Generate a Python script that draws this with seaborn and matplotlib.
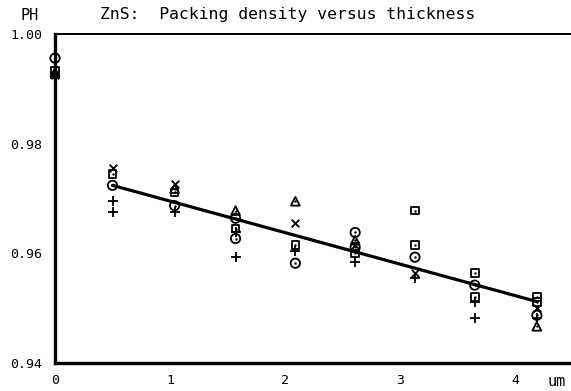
import numpy as np
import matplotlib
matplotlib.use('Agg')
import matplotlib.pyplot as plt
import pandas as pd
import seaborn as sns

# =========================
# DATA
# =========================
# thickness (um) and packing density, one list pair per marker symbol
circle_x = [0, 0.50, 1.04, 1.57, 1.57, 2.09, 2.61, 2.61, 3.13, 3.65, 4.19]
circle_y = [0.9956, 0.9724, 0.9687, 0.9664, 0.9627, 0.9582, 0.9638, 0.9611, 0.9593, 0.9542, 0.9487]

plus_x = [0, 0.50, 0.50, 1.04, 1.57, 1.57, 2.09, 2.61, 3.13, 3.65, 3.65, 4.19]
plus_y = [0.9920, 0.9695, 0.9676, 0.9676, 0.9638, 0.9593, 0.9605, 0.9584, 0.9555, 0.9511, 0.9482, 0.9482]

cross_x = [0, 0.50, 1.04, 2.09, 2.61, 3.13, 4.19]
cross_y = [0.9925, 0.9755, 0.9727, 0.9655, 0.9615, 0.9565, 0.9500]

square_x = [0, 0.50, 1.04, 1.57, 2.09, 2.61, 3.13, 3.13, 3.65, 3.65, 4.19, 4.19]
square_y = [0.9933, 0.9745, 0.9711, 0.9645, 0.9615, 0.9600, 0.9678, 0.9615, 0.9564, 0.9520, 0.9520, 0.9511]

tri_x = [0, 1.04, 1.57, 2.09, 2.61, 4.19]
tri_y = [0.9930, 0.9718, 0.9678, 0.9695, 0.9624, 0.9467]

# fitted line end points
fit_x = [0.50, 4.19]
fit_y = [0.9724, 0.9512]

title = 'ZnS:  Packing density versus thickness'
y_label = 'PH'
x_unit = 'um'

# =========================
# PLOTTING SETUP
# =========================
sns.set_style('white')
plt.rcParams['font.family'] = ['DejaVu Sans Mono']
plt.rcParams['text.color'] = 'black'
plt.rcParams['xtick.color'] = 'black'
plt.rcParams['ytick.color'] = 'black'

fig = plt.figure(figsize=(5.71, 3.91), dpi=100)
ax = fig.add_axes([55 / 571, 1 - 363 / 391, 1 - 55 / 571, (363 - 34) / 391])

# fit line
sns.lineplot(x=fit_x, y=fit_y, ax=ax, color='black', linewidth=2.3)

# open markers
open_kw = dict(ax=ax, facecolor='none', edgecolor='black', linewidth=1.3,
               legend=False, clip_on=False, zorder=3)
sns.scatterplot(x=circle_x, y=circle_y, marker='o', s=45, **open_kw)
sns.scatterplot(x=square_x, y=square_y, marker='s', s=30, **open_kw)
sns.scatterplot(x=tri_x, y=tri_y, marker='^', s=40, **open_kw)

# centre dots of the open symbols
dots = pd.DataFrame({
    'x': circle_x + square_x + tri_x,
    'y': circle_y + square_y + tri_y,
})
sns.scatterplot(data=dots, x='x', y='y', ax=ax, marker='o', s=3,
                color='black', linewidth=0, legend=False, clip_on=False, zorder=4)

# line-art markers
sns.scatterplot(x=plus_x, y=plus_y, ax=ax, marker='+', s=55, color='black',
                linewidth=1.3, legend=False, clip_on=False, zorder=3)
sns.scatterplot(x=cross_x, y=cross_y, ax=ax, marker='x', s=30, color='black',
                linewidth=1.3, legend=False, clip_on=False, zorder=3)

# =========================
# AXES
# =========================
ax.set_xlim(0, (571 - 55) / 115)
ax.set_ylim(0.94, 1.00)

ax.set_xticks([0, 1, 2, 3, 4])
ax.set_xticks(np.arange(0.5, 4.5, 1.0), minor=True)
ax.set_yticks([0.94, 0.96, 0.98, 1.00])
ax.set_yticks([0.95, 0.97, 0.99], minor=True)
ax.set_yticklabels(['0.94', '0.96', '0.98', '1.00'])
ax.set_xticklabels(['0', '1', '2', '3', '4'])

ax.tick_params(axis='both', which='both', direction='in', color='black',
               labelcolor='black', labelsize=9.5, width=1.3)
ax.tick_params(axis='x', which='both', length=5, pad=8)
ax.tick_params(axis='y', which='both', length=7, pad=9)

ax.set_xlabel('')
ax.set_ylabel('')
ax.grid(False)

for side in ['left', 'bottom']:
    ax.spines[side].set_linewidth(2.4)
    ax.spines[side].set_color('black')
ax.spines['top'].set_linewidth(1.4)
ax.spines['top'].set_color('black')
ax.spines['right'].set_visible(False)

# =========================
# TEXTS
# =========================
fig.text(20 / 571, 1 - 15 / 391, y_label, fontsize=11, va='center', ha='left')
fig.text(100 / 571, 1 - 15 / 391, title, fontsize=11.8, va='center', ha='left')
fig.text(557 / 571, 1 - 381 / 391, x_unit, fontsize=11, va='center', ha='center')

fig.savefig('out.png', dpi=100)
